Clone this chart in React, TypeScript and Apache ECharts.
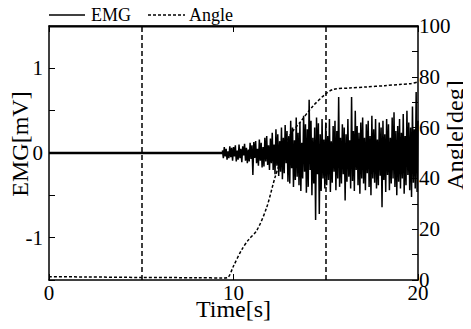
import React, { useEffect, useRef } from "react";
import * as echarts from "echarts";

const FONT = "'Liberation Serif', 'Times New Roman', serif";

// Angle trace (time in s, angle in deg)
const angleTimes = [0, 2, 5, 8, 9.5, 9.7, 10.0, 10.45, 10.8, 11.27, 11.8, 12.25, 12.7, 13.06, 13.6, 14.25, 14.95, 15.4, 16.3, 17.2, 18.2, 19.0, 19.6, 20];
const angleValues = [1.3, 1.2, 1.0, 0.9, 0.8, 1.0, 5.5, 12, 15.7, 19.6, 28.6, 40.4, 50, 57, 62, 68, 73, 75, 75.6, 76, 76.5, 77, 77.3, 78];

// EMG: flat until onset, then sampled values
const emgFlatTimes = [0, 9.4];
const emgFlatValues = [0, 0];
const emgStart = 9.4;
const emgStep = 0.05;
const emgValues = [
  0.03, -0.06, 0.07, -0.04, 0.05, -0.08, 0.02, -0.06, 0.08, -0.05, 0.06, -0.09,
  0.07, -0.04, 0.09, -0.1, 0.03, -0.08, 0.1, -0.06, 0.05, -0.11, 0.08, -0.03, 0.11, -0.09, 0.06, -0.12, 0.04, -0.1, 0.12, -0.07,
  0.09, -0.26, 0.13, -0.06, 0.14, -0.12, 0.05, -0.15, 0.16, -0.09, 0.12, -0.17, 0.07, -0.16, 0.18, -0.1, 0.2, -0.14, 0.09, -0.2,
  0.17, -0.12, 0.24, -0.2, 0.1, -0.25, 0.28, -0.15, 0.22, -0.27, 0.14, -0.22, 0.3, -0.31, 0.18, -0.24, 0.33, -0.12, 0.26, -0.34,
  0.2, -0.36, 0.38, -0.18, 0.3, -0.4, 0.15, -0.32, 0.42, -0.28, 0.24, -0.38, 0.36, -0.45, 0.12, -0.3, 0.44, -0.22, 0.34, -0.47,
  0.28, -0.4, 0.63, -0.2, 0.38, -0.5, 0.18, -0.36, 0.3, -0.79, 0.42, -0.25, 0.35, -0.72, 0.22, -0.45, 0.4, -0.3, 0.16, -0.42,
  0.36, -0.38, 0.2, -0.32, 0.4, -0.46, 0.14, -0.35, 0.32, -0.22, 0.38, -0.44, 0.26, -0.3, 0.66, -0.4, 0.18, -0.36, 0.34, -0.25,
  0.3, -0.56, 0.22, -0.34, 0.4, -0.28, 0.15, -0.42, 0.66, -0.33, 0.26, -0.45, 0.5, -0.2, 0.32, -0.38, 0.24, -0.48, 0.36, -0.3,
  0.42, -0.36, 0.18, -0.44, 0.34, -0.24, 0.38, -0.4, 0.2, -0.5, 0.44, -0.3, 0.28, -0.35, 0.4, -0.42, 0.16, -0.38, 0.36, -0.27,
  0.3, -0.64, 0.38, -0.32, 0.22, -0.46, 0.4, -0.26, 0.34, -0.44, 0.18, -0.36, 0.42, -0.3, 0.48, -0.4, 0.26, -0.5, 0.32, -0.34,
  0.4, -0.42, 0.24, -0.3, 0.46, -0.48, 0.2, -0.38, 0.5, -0.26, 0.36, -0.44, 0.3, -0.52, 0.55, -0.35, 0.28, -0.42, 0.72, -0.46,
  0.38,
];
const markerTimes = [5, 15];

const xTicksShown = [0, 10, 20];
const emgTicksShown = [-1, 0, 1];
const angleTicksShown = [0, 20, 40, 60, 80, 100];
const legendNames = ["EMG", "Angle"];

const G = { left: 49, right: 53, top: 26, bottom: 49 };
const W = 471;
const H = 329;

export default function App() {
  const ref = useRef<HTMLDivElement>(null);
  useEffect(() => {
    if (!ref.current) return;
    const chart = echarts.init(ref.current, null, { renderer: "svg" });
    const emgData = emgValues.map((v, i) => [+(emgStart + i * emgStep).toFixed(3), v]);
    const flatData = emgFlatTimes.map((t, i) => [t, emgFlatValues[i]]);
    const angleData = angleTimes.map((t, i) => [t, angleValues[i]]);
    const black = "#000";
    const lbl = (shown: number[]) => (v: number) => (shown.includes(v) ? String(v) : "");
    const labelStyle = { fontFamily: FONT, fontSize: 21, color: black };
    const nameStyle = { fontFamily: FONT, fontSize: 24, color: black };
    chart.setOption({
      animation: false,
      backgroundColor: "#fff",
      textStyle: { fontFamily: FONT, color: black },
      grid: { ...G, containLabel: false, outerBoundsMode: "none" },
      graphic: [
        {
          type: "line",
          z: 100,
          silent: true,
          shape: { x1: G.left, y1: G.top + 0.5, x2: W - G.right, y2: G.top + 0.5 },
          style: { stroke: black, lineWidth: 2 },
        },
        { type: "line", shape: { x1: 49, y1: 15, x2: 85, y2: 15 }, style: { stroke: black, lineWidth: 1.5 } },
        {
          type: "text",
          x: 91,
          y: 15,
          style: { text: legendNames[0], fontFamily: FONT, fontSize: 18, fill: black, verticalAlign: "middle" },
        },
        {
          type: "line",
          shape: { x1: 148, y1: 15, x2: 185, y2: 15 },
          style: { stroke: black, lineWidth: 1.5, lineDash: [3, 2] },
        },
        {
          type: "text",
          x: 189,
          y: 15,
          style: { text: legendNames[1], fontFamily: FONT, fontSize: 18, fill: black, verticalAlign: "middle" },
        },
      ],
      xAxis: [
        {
          type: "value",
          min: 0,
          max: 20,
          interval: 10,
          name: "Time[s]",
          nameLocation: "middle",
          nameGap: 17,
          nameMoveOverlap: false,
          nameTextStyle: nameStyle,
          axisLine: { onZero: false, lineStyle: { color: black, width: 1.5 } },
          axisTick: { inside: true, length: 6, lineStyle: { color: black } },
          axisLabel: { ...labelStyle, margin: 2, formatter: lbl(xTicksShown) },
          splitLine: { show: false },
        },
        {
          type: "value",
          position: "top",
          min: 0,
          max: 20,
          interval: 10,
          axisLine: { show: true, onZero: false, lineStyle: { color: black, width: 1.5 } },
          axisTick: { show: true, inside: true, length: 6, lineStyle: { color: black } },
          axisLabel: { show: false },
          splitLine: { show: false },
        },
      ],
      yAxis: [
        {
          type: "value",
          min: -1.5,
          max: 1.5,
          interval: 0.5,
          name: "EMG[mV]",
          nameLocation: "middle",
          nameGap: 17,
          nameMoveOverlap: false,
          nameTextStyle: { ...nameStyle, padding: [0, 0, 0, 18] },
          axisLine: { show: true, onZero: false, lineStyle: { color: black, width: 1.5 } },
          axisTick: { inside: true, length: 6, lineStyle: { color: black } },
          axisLabel: { ...labelStyle, margin: 6, formatter: lbl(emgTicksShown) },
          splitLine: { show: false },
        },
        {
          type: "value",
          position: "right",
          min: 0,
          max: 100,
          interval: 10,
          name: "Angle[deg]",
          nameLocation: "middle",
          nameGap: 25,
          nameRotate: 90,
          nameMoveOverlap: false,
          nameTextStyle: { ...nameStyle, padding: [0, 0, 0, 36] },
          axisLine: { show: true, onZero: false, lineStyle: { color: black, width: 1.5 } },
          axisTick: { inside: true, length: 6, lineStyle: { color: black } },
          axisLabel: { ...labelStyle, margin: 1, formatter: lbl(angleTicksShown) },
          splitLine: { show: false },
        },
      ],
      series: [
        {
          name: "EMG",
          type: "line",
          xAxisIndex: 0,
          yAxisIndex: 0,
          data: emgData,
          showSymbol: false,
          symbol: "none",
          lineStyle: { color: black, width: 1.5 },
        },
        {
          name: "EMG-baseline",
          type: "line",
          xAxisIndex: 0,
          yAxisIndex: 0,
          data: flatData,
          showSymbol: false,
          symbol: "none",
          lineStyle: { color: black, width: 2.5 },
        },
        {
          name: "Angle",
          type: "line",
          xAxisIndex: 0,
          yAxisIndex: 1,
          data: angleData,
          showSymbol: false,
          symbol: "none",
          smooth: 0.3,
          lineStyle: { color: black, width: 1.5, type: [3, 2] },
          markLine: {
            silent: true,
            symbol: ["none", "none"],
            label: { show: false },
            lineStyle: { color: black, width: 1.5, type: [5, 3] },
            data: markerTimes.map((t) => ({ xAxis: t })),
          },
        },
      ],
    });
    return () => chart.dispose();
  }, []);
  return <div ref={ref} style={{ width: W, height: H, margin: -8 }} />;
}
